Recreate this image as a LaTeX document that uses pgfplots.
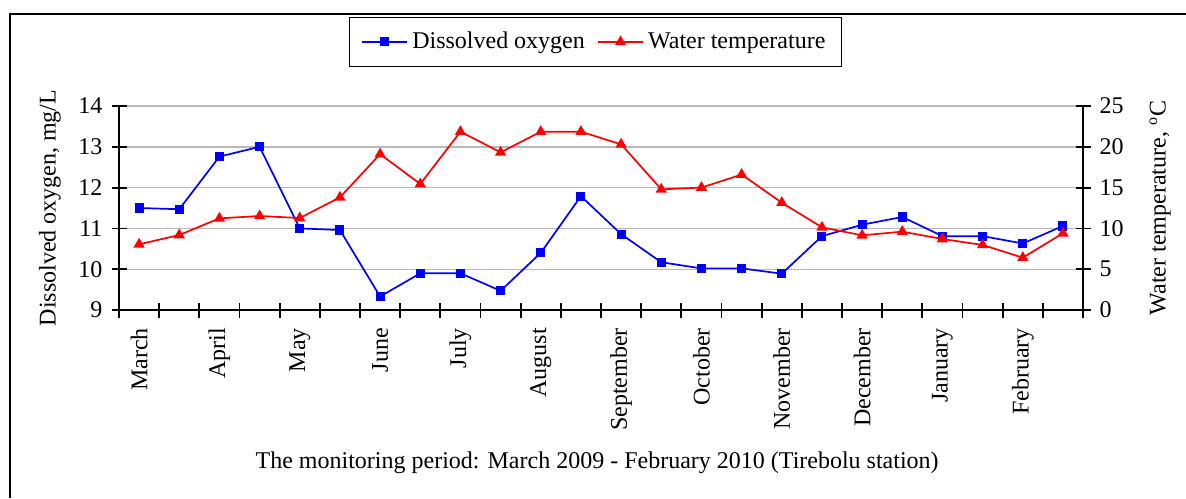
\documentclass[border=0pt]{standalone}
\usepackage{pgfplots}
\pgfplotsset{compat=1.18}
\usepackage{fontspec}
\setmainfont{Liberation Serif}
\newcommand{\fs}{\fontsize{12}{14}\selectfont}
\begin{document}
\begin{tikzpicture}
\path[use as bounding box] (0,0) rectangle (593pt,249pt);
\draw[line width=1pt] (5pt,0pt) -- (5pt,242pt) -- (593pt,242pt);
\begin{axis}[
  at={(59.5pt,94pt)}, anchor=south west,
  scale only axis, width=482pt, height=102pt,
  xmin=0, xmax=24, ymin=9, ymax=14,
  axis x line*=bottom, axis y line*=left,
  axis line style={line width=0.9pt},
  every tick/.style={black, line width=0.9pt},
  tick align=center, major tick length=7.5pt,
  xtick={0,...,24}, xticklabels={},
  ytick={9,10,...,14},
  ymajorgrids, grid style={gray!55, line width=0.7pt},
  extra x ticks={0.5,2.5,...,22.5},
  extra x tick labels={March,April,May,June,July,August,September,October,November,December,January,February},
  extra x tick style={major tick length=0pt, grid=none,
     tick label style={rotate=90, anchor=east, xshift=-5.5pt}},
  /pgf/number format/assume math mode=true,
  tick label style={font=\fs},
  yticklabel style={xshift=-1pt},
  ylabel={Dissolved oxygen, mg/L},
  ylabel style={font=\fs, at={(axis description cs:-0.0716,0.5)}, anchor=center},
  xlabel={The monitoring period: March 2009 - February 2010 (Tirebolu station)},
  xlabel style={font=\fs, at={(axis description cs:0.496,-0.75)}, anchor=center},
  clip=false,
]
\addplot[blue, line width=0.85pt, mark=square*, mark size=1.85pt, mark options={solid, fill=blue}]
coordinates {
(0.5,11.50) (1.5,11.47) (2.5,12.76) (3.5,13.00) (4.5,11.00) (5.5,10.96)
(6.5,9.33) (7.5,9.90) (8.5,9.90) (9.5,9.47) (10.5,10.40) (11.5,11.79)
(12.5,10.86) (13.5,10.17) (14.5,10.02) (15.5,10.02) (16.5,9.89) (17.5,10.81)
(18.5,11.09) (19.5,11.28) (20.5,10.81) (21.5,10.81) (22.5,10.63) (23.5,11.06)
};
\end{axis}
\begin{axis}[
  at={(59.5pt,94pt)}, anchor=south west,
  scale only axis, width=482pt, height=102pt,
  xmin=0, xmax=24, ymin=0, ymax=25,
  axis x line=none, axis y line*=right,
  axis line style={line width=0.9pt},
  every tick/.style={black, line width=0.9pt},
  tick align=center, major tick length=7.5pt,
  ytick={0,5,...,25},
  /pgf/number format/assume math mode=true,
  tick label style={font=\fs},
  yticklabel style={xshift=1pt},
  ylabel={Water temperature, $^{\mathrm{o}}$C},
  ylabel style={font=\fs, at={(axis description cs:1.08,0.5)}, anchor=center},
  legend columns=2,
  legend style={at={(0.494,1.314)}, anchor=center, draw=black, line width=0.5pt,
     font=\fs, /tikz/every even column/.append style={column sep=4pt},
     inner xsep=6pt, inner ysep=5.5pt},
  legend image code/.code={\draw[mark repeat=2,mark phase=2,#1] plot coordinates {(0cm,0cm) (0.4cm,0cm) (0.8cm,0cm)};},
  clip=false,
]
\addlegendimage{blue, line width=0.85pt, mark=square*, mark size=1.85pt, mark options={solid, fill=blue}}
\addlegendentry{Dissolved oxygen}
\addplot[red, line width=0.85pt, mark=triangle*, mark size=2.4pt, mark options={solid, fill=red}]
coordinates {
(0.5,8.05) (1.5,9.19) (2.5,11.23) (3.5,11.52) (4.5,11.27) (5.5,13.80)
(6.5,19.10) (7.5,15.44) (8.5,21.85) (9.5,19.32) (10.5,21.85) (11.5,21.85)
(12.5,20.30) (13.5,14.79) (14.5,15.00) (15.5,16.60) (16.5,13.15) (17.5,10.13)
(18.5,9.15) (19.5,9.60) (20.5,8.70) (21.5,7.97) (22.5,6.41) (23.5,9.40)
};
\addlegendentry{Water temperature}
\end{axis}
\end{tikzpicture}
\end{document}
